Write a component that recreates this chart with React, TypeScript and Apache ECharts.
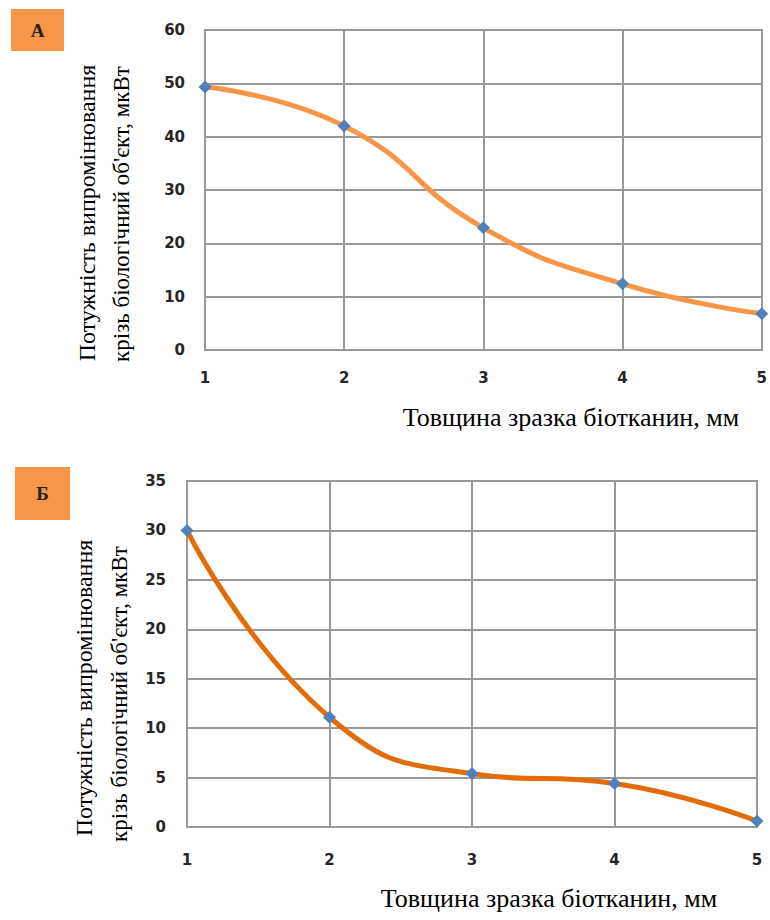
import React, { useEffect, useRef } from "react";
import * as echarts from "echarts";

const thickness = [1, 2, 3, 4, 5];
const powerA = [49.3, 42.0, 22.9, 12.4, 6.8];
const powerB = [30.0, 11.1, 5.4, 4.4, 0.6];
const yTitle1 = "Потужність випромінювання";
const yTitle2 = "крізь біологічний об'єкт, мкВт";
const xTitle = "Товщина зразка біотканин, мм";
const panelLabels = ["А", "Б"];

const serif = "Liberation Serif";
const sans = "DejaVu Sans";

export default function App() {
  const ref = useRef<HTMLDivElement>(null);
  useEffect(() => {
    if (!ref.current) return;
    const chart = echarts.init(ref.current, null, { renderer: "svg" });
    const gridDefs = [
      { left: 205, top: 30, width: 562, height: 320 },
      { left: 187, top: 481, width: 570, height: 346 },
    ];
    const yRanges = [
      { max: 60, interval: 10, margin: 20 },
      { max: 35, interval: 5, margin: 21 },
    ];
    const xMargins = [20, 25];
    const lineColors = ["#F79646", "#E36C09"];
    const series = [powerA, powerB].map((vals, i) => ({
      type: "line",
      xAxisIndex: i,
      yAxisIndex: i,
      smooth: 0.5,
      clip: false,
      data: thickness.map((t, k) => [t, vals[k]]),
      lineStyle: { color: lineColors[i], width: 5 },
      symbol: "diamond",
      symbolSize: 13,
      itemStyle: { color: "#4F81BD" },
      z: 3,
    }));
    const graphic: any[] = [];
    const boxes = [
      { x: 11, y: 9, w: 53, h: 42 },
      { x: 15, y: 467, w: 55, h: 53 },
    ];
    boxes.forEach((b, i) => {
      graphic.push({
        type: "rect",
        shape: { x: b.x, y: b.y, width: b.w, height: b.h },
        style: { fill: "#F79646" },
      });
      graphic.push({
        type: "text",
        x: b.x + b.w / 2,
        y: b.y + b.h / 2,
        style: {
          text: panelLabels[i],
          fontFamily: serif,
          fontSize: 19,
          fontWeight: "bold",
          fill: "#222",
          align: "center",
          verticalAlign: "middle",
        },
      });
    });
    const titlePos = [
      { l1x: 87, l1y: 213, l2x: 121, l2y: 214, xx: 571, xy: 417 },
      { l1x: 84, l1y: 688, l2x: 119, l2y: 694, xx: 549, xy: 898 },
    ];
    titlePos.forEach((p) => {
      graphic.push({
        type: "text",
        x: p.l1x,
        y: p.l1y,
        rotation: Math.PI / 2,
        style: {
          text: yTitle1,
          fontFamily: serif,
          fontSize: 24,
          fill: "#000",
          align: "center",
          verticalAlign: "middle",
        },
      });
      graphic.push({
        type: "text",
        x: p.l2x,
        y: p.l2y,
        rotation: Math.PI / 2,
        style: {
          text: yTitle2,
          fontFamily: serif,
          fontSize: 23,
          fill: "#000",
          align: "center",
          verticalAlign: "middle",
        },
      });
      graphic.push({
        type: "text",
        x: p.xx,
        y: p.xy,
        style: {
          text: xTitle,
          fontFamily: serif,
          fontSize: 26,
          fill: "#000",
          align: "center",
          verticalAlign: "middle",
        },
      });
    });
    chart.setOption({
      animation: false,
      grid: gridDefs.map((g) => ({
        ...g,
        show: true,
        borderColor: "#222",
        borderWidth: 1.5,
        backgroundColor: "#fff",
      })),
      xAxis: gridDefs.map((_, i) => ({
        type: "value",
        gridIndex: i,
        min: 1,
        max: 5,
        interval: 1,
        axisLine: { show: true, onZero: false, lineStyle: { color: "#999", width: 2 } },
        axisTick: { show: false },
        splitLine: { show: true, lineStyle: { color: "#999", width: 2 } },
        axisLabel: {
          margin: xMargins[i],
          color: "#262626",
          fontFamily: sans,
          fontWeight: "bold",
          fontSize: 15,
          showMinLabel: true,
          showMaxLabel: true,
        },
      })),
      yAxis: gridDefs.map((_, i) => ({
        type: "value",
        gridIndex: i,
        min: 0,
        max: yRanges[i].max,
        interval: yRanges[i].interval,
        axisLine: { show: true, lineStyle: { color: "#999", width: 2 } },
        axisTick: { show: false },
        splitLine: { show: true, lineStyle: { color: "#999", width: 2 } },
        axisLabel: {
          margin: yRanges[i].margin,
          color: "#262626",
          fontFamily: sans,
          fontWeight: "bold",
          fontSize: 15,
        },
      })),
      series,
      graphic,
    });
    return () => chart.dispose();
  }, []);
  return (
    <div
      ref={ref}
      style={{ position: "fixed", left: 0, top: 0, width: 770, height: 920, background: "#fff" }}
    />
  );
}
